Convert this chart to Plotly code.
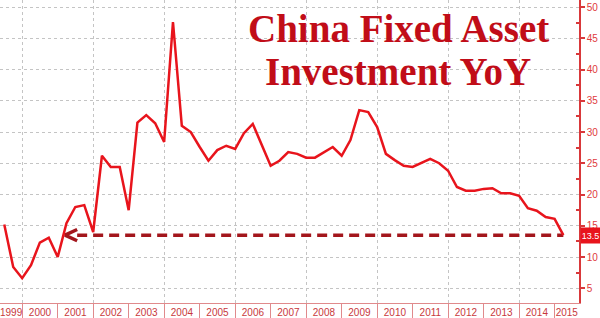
import pandas as pd
import plotly.graph_objects as go

# ---- data (quarterly, % YoY) ----
start_quarter = "1999-07-01"
fai_yoy = [
    15.2, 8.4, 6.6, 8.7, 12.3, 13.1, 10.0, 15.4,
    18.0, 18.3, 14.0, 26.2, 24.4, 24.4, 17.5, 31.5,
    32.7, 31.4, 28.4, 47.6, 31.0, 30.0, 27.6, 25.4,
    27.1, 27.8, 27.3, 29.8, 31.3, 27.9, 24.6, 25.4,
    26.8, 26.5, 25.9, 25.9, 26.8, 27.6, 26.2, 28.7,
    33.5, 33.2, 30.8, 26.5, 25.5, 24.6, 24.4, 25.0,
    25.7, 25.0, 23.8, 21.2, 20.6, 20.6, 20.9, 21.0,
    20.2, 20.2, 19.8, 17.8, 17.4, 16.4, 16.1, 13.5,
]
year_labels = [str(y) for y in range(1999, 2016)]
y_ticks = [5, 10, 15, 20, 25, 30, 35, 40, 45, 50]
arrow_date = "2001-03-17"
title_lines = ["China Fixed Asset", "Investment YoY"]

dates = pd.date_range(start_quarter, periods=len(fai_yoy), freq="QS")
last_val = fai_yoy[-1]

x_start = pd.Timestamp("1999-05-18")
x_end = pd.Timestamp("2015-09-09")

# label positions: centre of the visible part of each year
label_pos = []
for y in year_labels:
    lo = max(pd.Timestamp(f"{y}-01-01"), x_start)
    hi = min(pd.Timestamp(f"{int(y)+1}-01-01"), x_end)
    label_pos.append(lo + (hi - lo) / 2)

RED = "#e8141c"
DARK = "#a3161c"
AXRED = "#d9383a"

fig = go.Figure()

# invisible trace to activate the 2-year grid axis
fig.add_trace(go.Scatter(x=dates, y=fai_yoy, xaxis="x2", mode="lines",
                         line=dict(width=0), opacity=0, hoverinfo="skip",
                         showlegend=False))

# dashed reference arrow at latest value
arrow_tip = pd.Timestamp(arrow_date)
arm = pd.Timedelta(days=125)
fig.add_trace(go.Scatter(x=[arrow_tip + arm, dates[-1]], y=[last_val, last_val],
                         mode="lines", line=dict(color=DARK, width=3.5, dash="10px,6px"),
                         showlegend=False, hoverinfo="skip"))
fig.add_trace(go.Scatter(x=[arrow_tip + arm, arrow_tip, arrow_tip + arm],
                         y=[last_val + 0.9, last_val, last_val - 0.9],
                         mode="lines", line=dict(color=DARK, width=3.5),
                         showlegend=False, hoverinfo="skip"))

# main series
fig.add_trace(go.Scatter(x=dates, y=fai_yoy, mode="lines",
                         line=dict(color=RED, width=2.5), showlegend=False))

fig.update_layout(
    width=600, height=318,
    margin=dict(l=0, r=21, t=0, b=15),
    paper_bgcolor="white", plot_bgcolor="white",
    xaxis=dict(
        type="date", range=[x_start, x_end],
        tickmode="array", tickvals=label_pos, ticktext=year_labels,
        ticks="", showgrid=False, ticklabeloverflow="allow",
        tickfont=dict(family="Liberation Sans", size=10, color="#c8383c"),
        showline=True, linecolor="#e08a8c", linewidth=1,
        minor=dict(tickmode="linear", tick0="2000-01-01", dtick="M12",
                   ticks="outside", ticklen=15, tickcolor="#e08a8c", tickwidth=1,
                   showgrid=False),
        ticklabelstandoff=0,
    ),
    xaxis2=dict(
        type="date", overlaying="x", matches="x", side="bottom",
        tickmode="linear", tick0="2000-01-01", dtick="M24",
        showticklabels=False, ticks="", showline=False,
        showgrid=True, gridcolor="#c4c4c4", griddash="dot", gridwidth=1,
    ),
    yaxis=dict(
        side="right", range=[2.64, 51.12],
        tickvals=y_ticks, ticks="outside", ticklen=4, tickwidth=2, tickcolor=AXRED,
        tickfont=dict(family="Liberation Sans", size=10, color="#e03a3c"),
        showline=True, linecolor=AXRED, linewidth=1.5,
        showgrid=True, gridcolor="#c4c4c4", griddash="dot", gridwidth=1,
        zeroline=False,
        minor=dict(tickmode="linear", tick0=2.5, dtick=5, ticks="inside",
                   ticklen=3, tickcolor=AXRED, showgrid=False),
    ),
    annotations=[
        dict(text=title_lines[0], xref="paper", yref="paper", x=0.688, y=0.985,
             xanchor="center", yanchor="top", showarrow=False,
             font=dict(family="Liberation Serif", size=39, color="#c10d18", weight="bold")),
        dict(text=title_lines[1], xref="paper", yref="paper", x=0.688, y=0.84,
             xanchor="center", yanchor="top", showarrow=False,
             font=dict(family="Liberation Serif", size=39, color="#c10d18", weight="bold")),
        dict(text=f"{last_val}", xref="paper", yref="y", x=1.0, y=last_val,
             xanchor="left", yanchor="middle", showarrow=False,
             bgcolor=RED, borderpad=0, xshift=1, width=19, height=15,
             font=dict(family="Liberation Sans", size=9, color="white")),
    ],
)

fig.write_html("out.html")
